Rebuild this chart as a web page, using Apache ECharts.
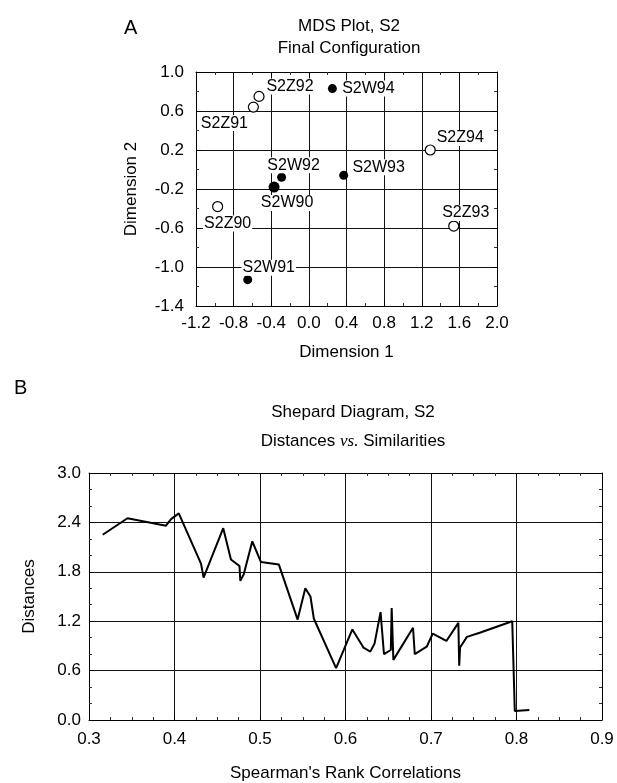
<!DOCTYPE html>
<html>
<head>
<meta charset="utf-8">
<title>MDS Plot, S2 / Shepard Diagram, S2</title>
<script src="https://cdn.jsdelivr.net/npm/echarts@6/dist/echarts.min.js"></script>
<style>
  html, body { margin: 0; padding: 0; background: #fff; }
  #chart { width: 617px; height: 783px; }
</style>
</head>
<body>
<div id="chart"></div>
<script>
// --- panel A: MDS final configuration ---
const mdsNames = ['S2W94', 'S2Z92', 'S2Z91', 'S2Z94', 'S2W93', 'S2W92', 'S2W90', 'S2Z90', 'S2Z93', 'S2W91'];
const mdsDim1  = [0.25, -0.53, -0.59, 1.29, 0.37, -0.29, -0.37, -0.97, 1.54, -0.65];
const mdsDim2  = [0.83, 0.75, 0.64, 0.20, -0.06, -0.08, -0.18, -0.38, -0.58, -1.13];
const mdsFilled = [true, false, false, false, true, true, true, false, false, true];

// --- panel B: Shepard diagram ---
const rankCorr = [0.316, 0.345, 0.390, 0.396, 0.405, 0.431, 0.434, 0.457, 0.466, 0.476,
                  0.477, 0.481, 0.491, 0.501, 0.522, 0.544, 0.553, 0.559, 0.563, 0.589,
                  0.608, 0.621, 0.629, 0.634, 0.641, 0.645, 0.653, 0.654, 0.656, 0.679,
                  0.681, 0.695, 0.702, 0.718, 0.732, 0.733, 0.734, 0.742, 0.757, 0.795,
                  0.798, 0.815];
const distances = [2.25, 2.45, 2.36, 2.44, 2.51, 1.90, 1.73, 2.33, 1.95, 1.87,
                   1.69, 1.77, 2.17, 1.92, 1.89, 1.22, 1.60, 1.50, 1.23, 0.63,
                   1.10, 0.88, 0.83, 0.93, 1.31, 0.80, 0.85, 1.36, 0.73, 1.12,
                   0.80, 0.89, 1.05, 0.96, 1.18, 0.66, 0.88, 1.01, 1.06, 1.20,
                   0.11, 0.12];

// where each point label sits, relative to its marker
const labelOffset = {
  S2W94: [36, 0], S2Z92: [31, -10], S2Z91: [-29, 16], S2Z94: [30, -12], S2W93: [35, -8],
  S2W92: [12, -12], S2W90: [13, 16], S2Z90: [10, 17], S2Z93: [12, -13], S2W91: [21, -12]
};

const font = "'Liberation Sans', Arial, sans-serif";
const ink = '#000';

const mdsData = mdsNames.map((n, i) => ({
  name: n,
  value: [mdsDim1[i], mdsDim2[i]],
  symbolSize: n === 'S2W90' ? 11 : (mdsFilled[i] ? 9 : 10),
  itemStyle: mdsFilled[i]
    ? { color: ink, borderColor: ink, borderWidth: 0, opacity: 1 }
    : { color: '#fff', borderColor: ink, borderWidth: 1.2, opacity: 1 },
  label: { offset: labelOffset[n] }
}));

const shepData = rankCorr.map((x, i) => [x, distances[i]]);

function axisBase(min, max, interval, minorSplit) {
  return {
    type: 'value', min: min, max: max, interval: interval,
    axisLine: { show: true, onZero: false, lineStyle: { color: ink, width: 1 } },
    axisTick: { show: true, inside: true, length: 5, lineStyle: { color: ink } },
    minorTick: { show: true, splitNumber: minorSplit, length: 3, lineStyle: { color: '#333' } },
    splitLine: { show: false },
    axisLabel: { color: ink, fontSize: 17, fontFamily: font },
    nameTextStyle: { color: ink, fontSize: 17, fontFamily: font }
  };
}

function mirror(base, pos) {
  return Object.assign({}, base, {
    position: pos, axisLabel: { show: false }, name: '', splitLine: { show: false }
  });
}

const gridLine = { show: true, lineStyle: { color: '#111', width: 1 } };

const xA = Object.assign(axisBase(-1.2, 2.0, 0.4, 2), {
  gridIndex: 0, position: 'bottom', name: 'Dimension 1', nameLocation: 'middle', nameGap: 38,
  splitLine: gridLine,
  axisLabel: { color: ink, fontSize: 17, fontFamily: font, margin: 9, formatter: v => v.toFixed(1) }
});
const yA = Object.assign(axisBase(-1.4, 1.0, 0.4, 2), {
  gridIndex: 0, position: 'left', name: 'Dimension 2', nameLocation: 'middle', nameGap: 56,
  splitLine: gridLine,
  axisLabel: { color: ink, fontSize: 17, fontFamily: font, margin: 12, formatter: v => v.toFixed(1) }
});
const xB = Object.assign(axisBase(0.3, 0.9, 0.1, 4), {
  gridIndex: 1, position: 'bottom', name: "Spearman's Rank Correlations", nameLocation: 'middle', nameGap: 45,
  splitLine: gridLine,
  axisLabel: { color: ink, fontSize: 17, fontFamily: font, margin: 11, formatter: v => v.toFixed(1) }
});
const yB = Object.assign(axisBase(0, 3.0, 0.6, 3), {
  gridIndex: 1, position: 'left', name: 'Distances', nameLocation: 'middle', nameGap: 51,
  splitLine: gridLine,
  axisLabel: { color: ink, fontSize: 17, fontFamily: font, margin: 8, formatter: v => v.toFixed(1) }
});

const plain = { fontSize: 17, fontWeight: 'normal', color: ink, fontFamily: font };

const chart = echarts.init(document.getElementById('chart'), null, { renderer: 'canvas' });
chart.setOption({
  backgroundColor: '#fff',
  animation: false,
  title: [
    { text: 'A', left: 119, top: 13, textStyle: Object.assign({}, plain, { fontSize: 20 }) },
    { text: 'MDS Plot, S2', left: 344, top: 13, textAlign: 'center', textStyle: plain },
    { text: 'Final Configuration', left: 344, top: 35, textAlign: 'center', textStyle: plain },
    { text: 'B', left: 9, top: 373, textStyle: Object.assign({}, plain, { fontSize: 20 }) },
    { text: 'Shepard Diagram, S2', left: 348, top: 399, textAlign: 'center', textStyle: plain },
    { text: '{a|Distances }{b|vs.}{a| Similarities}', left: 348, top: 428, textAlign: 'center',
      textStyle: {
        fontWeight: 'normal',
        rich: {
          a: plain,
          b: Object.assign({}, plain, { fontStyle: 'italic', fontFamily: "'Liberation Serif', 'Times New Roman', serif" })
        }
      } }
  ],
  grid: [
    { left: 196, top: 72, width: 301, height: 234 },
    { left: 89, top: 473, width: 513, height: 248 }
  ],
  xAxis: [xA, mirror(xA, 'top'), xB, mirror(xB, 'top')],
  yAxis: [yA, mirror(yA, 'right'), yB, mirror(yB, 'right')],
  series: [
    {
      type: 'scatter', xAxisIndex: 0, yAxisIndex: 0, symbol: 'circle',
      data: mdsData,
      itemStyle: { opacity: 1 },
      label: {
        show: true, position: 'inside', formatter: '{b}',
        color: ink, opacity: 1, fontSize: 16, fontFamily: font,
        backgroundColor: '#fff', padding: [0, 1]
      },
      z: 5
    },
    {
      type: 'line', xAxisIndex: 2, yAxisIndex: 2,
      data: shepData, showSymbol: false, symbol: 'none',
      lineStyle: { color: ink, width: 2 }, z: 5
    }
  ]
});
</script>
</body>
</html>
